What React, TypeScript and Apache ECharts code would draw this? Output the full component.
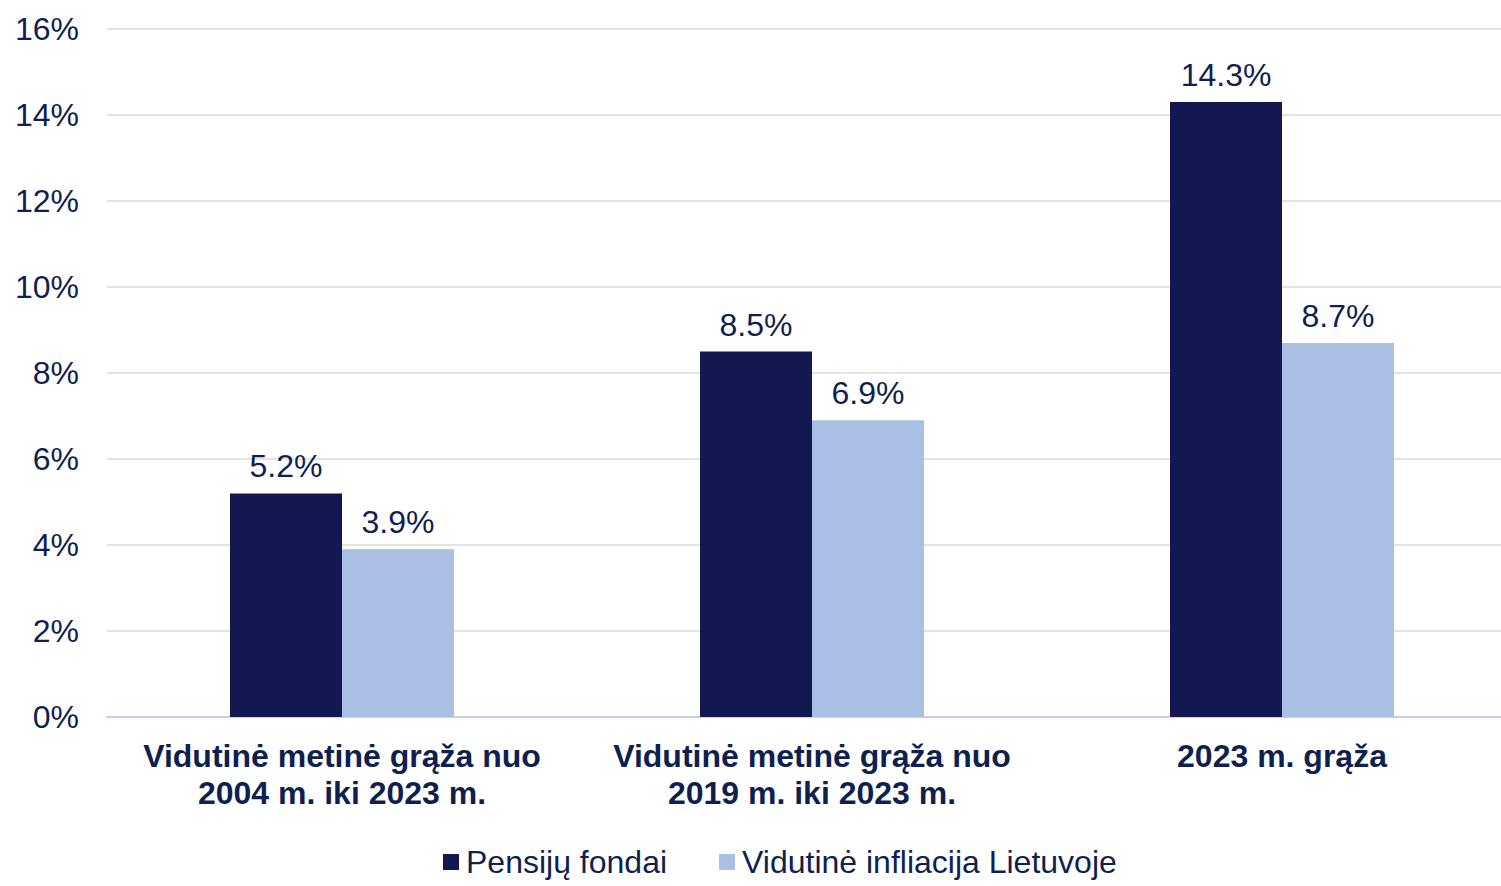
import React, { useEffect, useRef } from "react";
import * as echarts from "echarts";

const categories = [
  "Vidutinė metinė grąža nuo\n2004 m. iki 2023 m.",
  "Vidutinė metinė grąža nuo\n2019 m. iki 2023 m.",
  "2023 m. grąža",
];
const pensionFunds = [5.2, 8.5, 14.3];
const inflation = [3.9, 6.9, 8.7];
const seriesNames = ["Pensijų fondai", "Vidutinė infliacija Lietuvoje"];

const TEXT = "#0f1f4f";
const FONT = "'Liberation Sans', Arial, sans-serif";

export default function App() {
  const ref = useRef<HTMLDivElement>(null);
  useEffect(() => {
    const chart = echarts.init(ref.current!, undefined, { renderer: "svg" });
    const label = {
      show: true,
      position: "top",
      distance: 11,
      color: TEXT,
      fontFamily: FONT,
      fontSize: 32,
      formatter: (p: any) => p.value.toFixed(1) + "%",
    };
    chart.setOption({
      animation: false,
      textStyle: { fontFamily: FONT },
      grid: { left: 107, right: 0, top: 29, bottom: 169, containLabel: false },
      legend: {
        top: 846,
        left: 438,
        padding: [0, 5],
        itemWidth: 16,
        itemHeight: 16,
        itemGap: 52,
        icon: "rect",
        textStyle: { color: TEXT, fontSize: 32, fontFamily: FONT, padding: [0, 0, 0, 2] },
        data: seriesNames,
      },
      xAxis: {
        type: "category",
        data: categories,
        axisLine: { lineStyle: { color: "#c0d0f0", width: 2 } },
        axisTick: { show: false },
        axisLabel: {
          color: TEXT,
          fontWeight: "bold",
          fontSize: 32,
          fontFamily: FONT,
          lineHeight: 37,
          margin: 20,
          interval: 0,
        },
      },
      yAxis: {
        type: "value",
        min: 0,
        max: 16,
        interval: 2,
        axisLine: { show: false },
        axisTick: { show: false },
        splitLine: { lineStyle: { color: "#e3e3e3", width: 2 } },
        axisLabel: {
          color: TEXT,
          fontSize: 32,
          fontFamily: FONT,
          margin: 28,
          formatter: (v: number) => v + "%",
        },
      },
      series: [
        {
          name: seriesNames[0],
          type: "bar",
          data: pensionFunds,
          barWidth: 112,
          barGap: "0%",
          itemStyle: { color: "#141850" },
          label,
        },
        {
          name: seriesNames[1],
          type: "bar",
          data: inflation,
          barWidth: 112,
          barGap: "0%",
          itemStyle: { color: "#aabfe4" },
          label,
        },
      ],
    });
    return () => chart.dispose();
  }, []);
  return (
    <div
      style={{ position: "fixed", left: 0, top: 0, width: 1501, height: 886, overflow: "hidden", background: "#fff" }}
    >
      <div ref={ref} style={{ width: 1517, height: 886 }} />
    </div>
  );
}
